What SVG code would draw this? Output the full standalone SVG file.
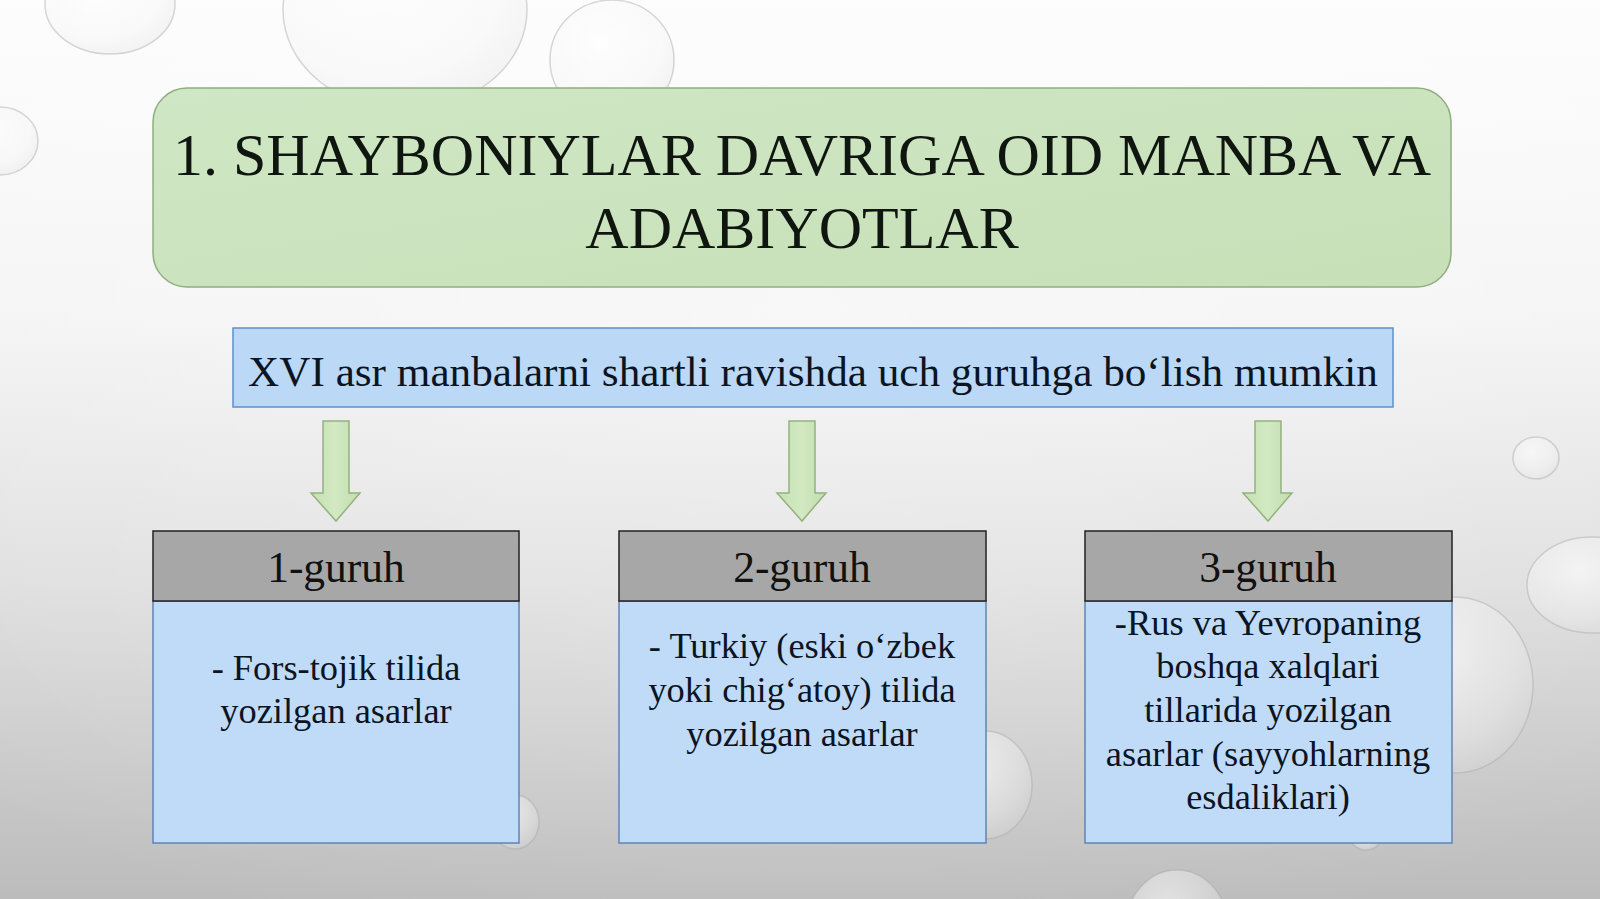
<svg xmlns="http://www.w3.org/2000/svg" width="1600" height="899" viewBox="0 0 1600 899">
<defs>
<linearGradient id="bg" x1="0" y1="0" x2="0" y2="1">
<stop offset="0" stop-color="#fdfdfd"/>
<stop offset="0.35" stop-color="#f4f4f4"/>
<stop offset="0.65" stop-color="#dedede"/>
<stop offset="1" stop-color="#bcbcbc"/>
</linearGradient>
<radialGradient id="bgr" cx="0.5" cy="0.35" r="0.75">
<stop offset="0" stop-color="#ffffff" stop-opacity="0.35"/>
<stop offset="1" stop-color="#ffffff" stop-opacity="0"/>
</radialGradient>
<radialGradient id="drop" cx="0.4" cy="0.35" r="0.7">
<stop offset="0" stop-color="#ffffff" stop-opacity="0.6"/>
<stop offset="0.7" stop-color="#f4f4f4" stop-opacity="0.35"/>
<stop offset="1" stop-color="#dcdcdc" stop-opacity="0.3"/>
</radialGradient>
<linearGradient id="green" x1="0" y1="0" x2="1" y2="1">
<stop offset="0" stop-color="#cfe7c4"/>
<stop offset="1" stop-color="#c7e0b8"/>
</linearGradient>
<linearGradient id="arrowG" x1="0" y1="0" x2="1" y2="0">
<stop offset="0" stop-color="#c6e0b2"/>
<stop offset="0.5" stop-color="#d2e9c2"/>
<stop offset="1" stop-color="#c2dcae"/>
</linearGradient>
</defs>
<style>
.t{font-family:"Liberation Serif","Times New Roman",serif;text-anchor:middle;fill:#0b1422}
.title{font-size:60px;fill:#0f160f}
.sub{font-size:43.2px}
.hd{font-size:43.5px;fill:#111}
.bd{font-size:36.4px}
.drop{fill:url(#drop);stroke:#a8a8a8;stroke-width:1.5;stroke-opacity:0.45}
.hdr{fill:#a7a7a7;stroke:#222;stroke-width:1.5}
.body{fill:#c0dbf8;stroke:#5f84b8;stroke-width:1.5}
.arrow{fill:url(#arrowG);stroke:#93b280;stroke-width:1.5}
</style>
<rect x="0" y="0" width="1600" height="899" fill="url(#bg)"/>
<rect x="0" y="0" width="1600" height="899" fill="url(#bgr)"/>
<g id="drops">
<ellipse class="drop" cx="110" cy="4" rx="65" ry="50"/>
<ellipse class="drop" cx="405" cy="10" rx="122" ry="100"/>
<ellipse class="drop" cx="612" cy="60" rx="62" ry="60"/>
<ellipse class="drop" cx="0" cy="141" rx="38" ry="34"/>
<ellipse class="drop" cx="1536" cy="458" rx="23" ry="21"/>
<ellipse class="drop" cx="1592" cy="585" rx="65" ry="48"/>
<ellipse class="drop" cx="1455" cy="685" rx="78" ry="88"/>
<ellipse class="drop" cx="985" cy="785" rx="47" ry="54"/>
<ellipse class="drop" cx="1177" cy="930" rx="52" ry="60"/>
<ellipse class="drop" cx="515" cy="822" rx="24" ry="27"/>
<ellipse class="drop" cx="1366" cy="840" rx="14" ry="10"/>
</g>
<g id="title">
<rect x="153" y="88" width="1298" height="199" rx="34" fill="url(#green)" stroke="#8fae80" stroke-width="1.5"/>
<text class="t title" x="802" y="175">1. SHAYBONIYLAR DAVRIGA OID MANBA VA</text>
<text class="t title" x="802" y="248">ADABIYOTLAR</text>
</g>
<g id="subtitle">
<rect x="233" y="328" width="1160" height="79" fill="#bcd8f7" stroke="#5b8fd0" stroke-width="1.5"/>
<text class="t sub" x="813" y="386">XVI asr manbalarni shartli ravishda uch guruhga bo‘lish mumkin</text>
</g>
<g id="connectors">
<path class="arrow" d="M323,421 H349 V493 H360 L336,521 L311,493 H323 Z"/>
<path class="arrow" d="M789,421 H815 V493 H826 L802,521 L777,493 H789 Z"/>
<path class="arrow" d="M1255,421 H1281 V493 H1292 L1268,521 L1243,493 H1255 Z"/>
</g>
<g id="group1">
<rect class="body" x="153" y="601" width="366" height="242"/>
<rect class="hdr" x="153" y="531" width="366" height="70"/>
<text class="t hd" x="336" y="582">1-guruh</text>
<text class="t bd" x="336" y="680">- Fors-tojik tilida</text>
<text class="t bd" x="336" y="723">yozilgan asarlar</text>
</g>
<g id="group2">
<rect class="body" x="619" y="601" width="367" height="242"/>
<rect class="hdr" x="619" y="531" width="367" height="70"/>
<text class="t hd" x="802" y="582">2-guruh</text>
<text class="t bd" x="802" y="658">- Turkiy (eski o‘zbek</text>
<text class="t bd" x="802" y="702">yoki chig‘atoy) tilida</text>
<text class="t bd" x="802" y="746">yozilgan asarlar</text>
</g>
<g id="group3">
<rect class="body" x="1085" y="601" width="367" height="242"/>
<rect class="hdr" x="1085" y="531" width="367" height="70"/>
<text class="t hd" x="1268" y="582">3-guruh</text>
<text class="t bd" x="1268" y="635">-Rus va Yevropaning</text>
<text class="t bd" x="1268" y="678">boshqa xalqlari</text>
<text class="t bd" x="1268" y="722">tillarida yozilgan</text>
<text class="t bd" x="1268" y="766">asarlar (sayyohlarning</text>
<text class="t bd" x="1268" y="809">esdaliklari)</text>
</g>
</svg>
